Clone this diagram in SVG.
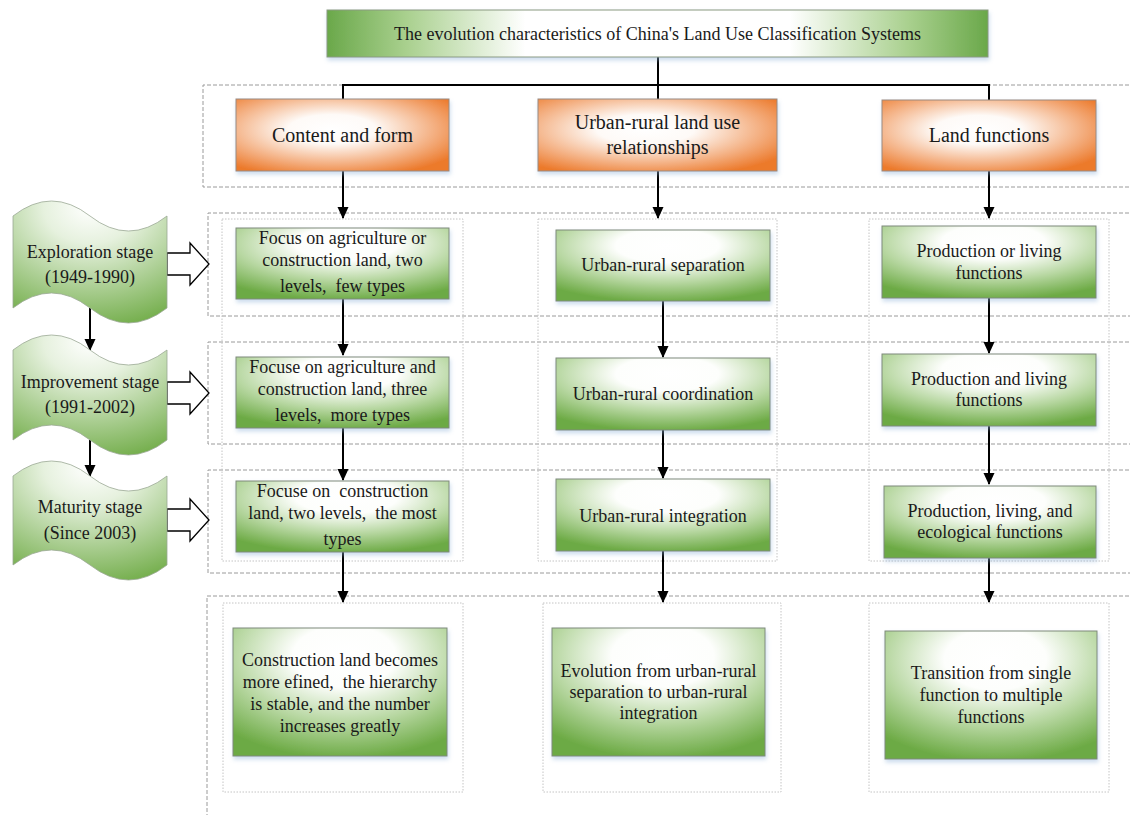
<svg xmlns="http://www.w3.org/2000/svg" width="1130" height="815" viewBox="0 0 1130 815">
<style>
.t{font-family:"Liberation Serif","Times New Roman",serif;fill:#1a1a1a;text-anchor:middle}
.g{font-size:18px}
.o{font-size:20px}
.s{font-size:18px}
.box{stroke:#7f8a7a;stroke-width:1}
.gb{fill:url(#gG)}
.ob{fill:url(#gO);stroke:#9a8a80;stroke-width:1}
.dash{fill:none;stroke:#9a9a9a;stroke-width:1;stroke-dasharray:4 2}
.dot{fill:none;stroke:#c4c4c4;stroke-width:1;stroke-dasharray:1.5 1.5}
.ln{fill:none;stroke:#000;stroke-width:2}
.ar{fill:none;stroke:#000;stroke-width:2;marker-end:url(#ah)}
.blk{fill:#fff;stroke:#000;stroke-width:1.3}
.stg{fill:url(#gS);stroke:#9aa894;stroke-width:0.8}
</style>
<defs>
<radialGradient id="gG" cx="0.52" cy="0.22" r="0.8">
<stop offset="0" stop-color="#ffffff"/>
<stop offset="0.3" stop-color="#fdfefc"/>
<stop offset="0.65" stop-color="#b7d7a1"/>
<stop offset="1" stop-color="#6caa44"/>
</radialGradient>
<radialGradient id="gO" cx="0.45" cy="0.42" r="0.68">
<stop offset="0" stop-color="#ffffff"/>
<stop offset="0.3" stop-color="#fefaf7"/>
<stop offset="0.7" stop-color="#f4b184"/>
<stop offset="1" stop-color="#ec7a2c"/>
</radialGradient>
<linearGradient id="gT" x1="0" y1="0" x2="1" y2="0">
<stop offset="0" stop-color="#6aa84a"/>
<stop offset="0.12" stop-color="#a9d08e"/>
<stop offset="0.3" stop-color="#ffffff"/>
<stop offset="0.7" stop-color="#ffffff"/>
<stop offset="0.88" stop-color="#a9d08e"/>
<stop offset="1" stop-color="#6aa84a"/>
</linearGradient>
<radialGradient id="gS" cx="0.5" cy="0.05" r="1">
<stop offset="0" stop-color="#ffffff"/>
<stop offset="0.3" stop-color="#e6f1de"/>
<stop offset="1" stop-color="#74ae4c"/>
</radialGradient>
<filter id="sh" x="-10%" y="-10%" width="125%" height="140%">
<feDropShadow dx="1" dy="3" stdDeviation="2" flood-color="#8fb4d9" flood-opacity="0.45"/>
</filter>
<marker id="ah" markerUnits="userSpaceOnUse" markerWidth="12" markerHeight="12" viewBox="0 0 12 12" refX="11" refY="6" orient="auto">
<path d="M0,0.5 L12,6 L0,11.5 z" fill="#000"/>
</marker>
</defs>

<g id="frames">
<path class="dash" d="M1135,85 L203,85 L203,187 L1135,187"/>
<path class="dash" d="M1135,213 L208,213 L208,316 L1135,316"/>
<path class="dash" d="M1135,342 L208,342 L208,444 L1135,444"/>
<path class="dash" d="M1135,470 L208,470 L208,573 L1135,573"/>
<path class="dash" d="M1135,596 L207,596 L207,820"/>
<rect class="dot" x="222" y="219" width="241" height="342"/>
<rect class="dot" x="538" y="219" width="239" height="342"/>
<rect class="dot" x="869" y="219" width="240" height="342"/>
<rect class="dot" x="223" y="603" width="240" height="189"/>
<rect class="dot" x="543" y="603" width="238" height="189"/>
<rect class="dot" x="869" y="603" width="240" height="189"/>
</g>

<g id="connectors">
<path class="ln" d="M658,57 L658,99 M343,99 L343,85 L989,85 L989,100"/>
<path class="ar" d="M343,171 L343,218"/>
<path class="ar" d="M658,171 L658,218"/>
<path class="ar" d="M989,171 L989,218"/>
<path class="ar" d="M343,299 L343,355"/>
<path class="ar" d="M663,301 L663,357"/>
<path class="ar" d="M989,298 L989,353"/>
<path class="ar" d="M343,428 L343,480"/>
<path class="ar" d="M663,430 L663,478"/>
<path class="ar" d="M989,426 L989,484"/>
<path class="ar" d="M343,552 L343,602"/>
<path class="ar" d="M663,551 L663,602"/>
<path class="ar" d="M989,558 L989,602"/>
<path class="ar" d="M90,308 L90,350"/>
<path class="ar" d="M90,440 L90,476"/>
<path class="blk" d="M167,253 L190,253 L190,243 L209,264 L190,285 L190,275 L167,275 Z"/>
<path class="blk" d="M167,382 L190,382 L190,372 L209,393 L190,414 L190,404 L167,404 Z"/>
<path class="blk" d="M167,509 L190,509 L190,499 L209,520 L190,541 L190,531 L167,531 Z"/>
</g>

<g id="title">
<rect x="327" y="10" width="661" height="47" fill="url(#gT)" stroke="#8a9a80" stroke-width="1" filter="url(#sh)"/>
<text class="t" x="657.5" y="39.5" font-size="18">The evolution characteristics of China's Land Use Classification Systems</text>
</g>

<g id="orange1">
<rect class="ob" x="236" y="99" width="213" height="72" filter="url(#sh)"/>
<text class="t o" x="342.5" y="142">Content and form</text>
</g>
<g id="orange2">
<rect class="ob" x="538" y="99" width="239" height="72" filter="url(#sh)"/>
<text class="t o" x="657.5" y="129">Urban-rural land use</text>
<text class="t o" x="657.5" y="154">relationships</text>
</g>
<g id="orange3">
<rect class="ob" x="882" y="100" width="214" height="71" filter="url(#sh)"/>
<text class="t o" x="989" y="142">Land functions</text>
</g>

<g id="stage1">
<path class="stg" d="M13,216 Q51.5,186 90,216 T167,216 L167,308 Q128.5,338 90,308 T13,308 Z"/>
<text class="t s" x="90" y="258">Exploration stage</text>
<text class="t s" x="90" y="283">(1949-1990)</text>
</g>
<g id="stage2">
<path class="stg" d="M13,350 Q51.5,320 90,350 T167,350 L167,440 Q128.5,470 90,440 T13,440 Z"/>
<text class="t s" x="90" y="388">Improvement stage</text>
<text class="t s" x="90" y="413">(1991-2002)</text>
</g>
<g id="stage3">
<path class="stg" d="M13,476 Q51.5,446 90,476 T167,476 L167,565 Q128.5,595 90,565 T13,565 Z"/>
<text class="t s" x="90" y="513">Maturity stage</text>
<text class="t s" x="90" y="539">(Since 2003)</text>
</g>

<g id="c1r1">
<rect class="box gb" x="236" y="228" width="213" height="71" filter="url(#sh)"/>
<text class="t g" x="342.5" y="244" xml:space="preserve">Focus on agriculture or</text>
<text class="t g" x="342.5" y="266" xml:space="preserve">construction land, two</text>
<text class="t g" x="342.5" y="292" xml:space="preserve">levels,  few types</text>
</g>
<g id="c1r2">
<rect class="box gb" x="236" y="357" width="213" height="71" filter="url(#sh)"/>
<text class="t g" x="342.5" y="373" xml:space="preserve">Focuse on agriculture and</text>
<text class="t g" x="342.5" y="395" xml:space="preserve">construction land, three</text>
<text class="t g" x="342.5" y="421" xml:space="preserve">levels,  more types</text>
</g>
<g id="c1r3">
<rect class="box gb" x="236" y="481" width="213" height="71" filter="url(#sh)"/>
<text class="t g" x="342.5" y="497" xml:space="preserve">Focuse on  construction</text>
<text class="t g" x="342.5" y="519" xml:space="preserve">land, two levels,  the most</text>
<text class="t g" x="342.5" y="545" xml:space="preserve">types</text>
</g>

<g id="c2r1">
<rect class="box gb" x="556" y="230" width="214" height="71" filter="url(#sh)"/>
<text class="t g" x="663" y="271">Urban-rural separation</text>
</g>
<g id="c2r2">
<rect class="box gb" x="556" y="358" width="214" height="72" filter="url(#sh)"/>
<text class="t g" x="663" y="400">Urban-rural coordination</text>
</g>
<g id="c2r3">
<rect class="box gb" x="556" y="479" width="214" height="72" filter="url(#sh)"/>
<text class="t g" x="663" y="522">Urban-rural integration</text>
</g>

<g id="c3r1">
<rect class="box gb" x="882" y="226" width="214" height="72" filter="url(#sh)"/>
<text class="t g" x="989" y="257">Production or living</text>
<text class="t g" x="989" y="279">functions</text>
</g>
<g id="c3r2">
<rect class="box gb" x="882" y="354" width="214" height="72" filter="url(#sh)"/>
<text class="t g" x="989" y="385">Production and living</text>
<text class="t g" x="989" y="406">functions</text>
</g>
<g id="c3r3">
<rect class="box gb" x="884" y="486" width="212" height="72" filter="url(#sh)"/>
<text class="t g" x="990" y="517">Production, living, and</text>
<text class="t g" x="990" y="538">ecological functions</text>
</g>

<g id="c1r4">
<rect class="box gb" x="233" y="628" width="214" height="128" filter="url(#sh)"/>
<text class="t g" x="340" y="666">Construction land becomes</text>
<text class="t g" x="340" y="688" xml:space="preserve">more efined,  the hierarchy</text>
<text class="t g" x="340" y="710">is stable, and the number</text>
<text class="t g" x="340" y="732">increases greatly</text>
</g>
<g id="c2r4">
<rect class="box gb" x="552" y="628" width="213" height="128" filter="url(#sh)"/>
<text class="t g" x="658.5" y="677">Evolution from urban-rural</text>
<text class="t g" x="658.5" y="698">separation to urban-rural</text>
<text class="t g" x="658.5" y="719">integration</text>
</g>
<g id="c3r4">
<rect class="box gb" x="885" y="631" width="212" height="128" filter="url(#sh)"/>
<text class="t g" x="991" y="679">Transition from single</text>
<text class="t g" x="991" y="701">function to multiple</text>
<text class="t g" x="991" y="723">functions</text>
</g>
</svg>
